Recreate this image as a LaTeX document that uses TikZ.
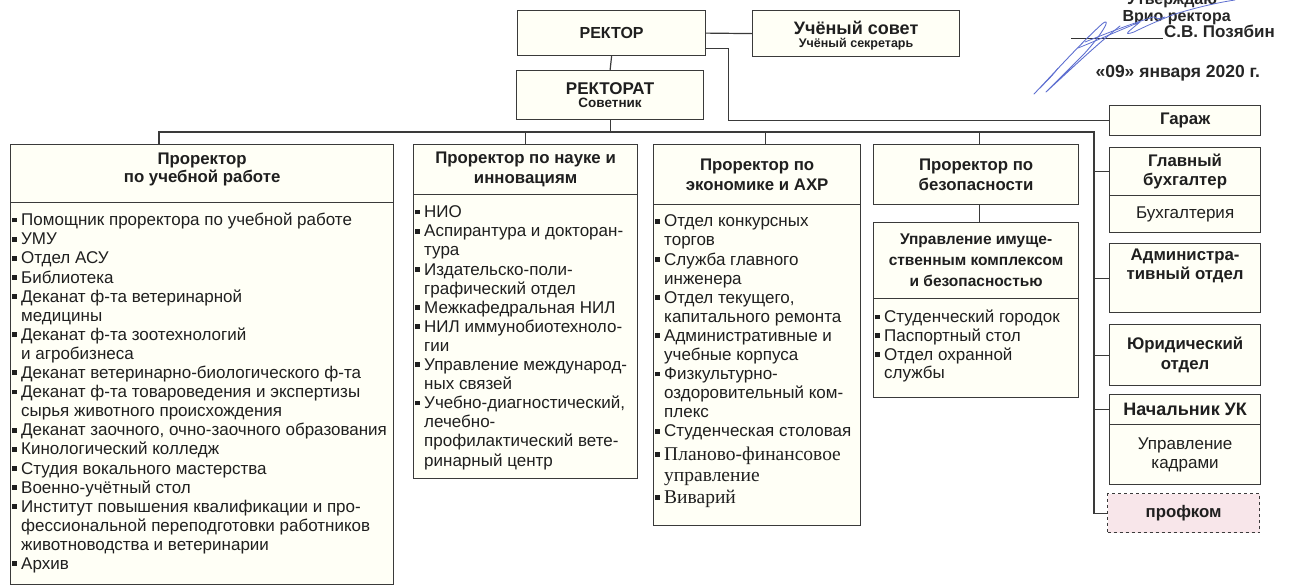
\documentclass[tikz,border=0pt]{standalone}
\usepackage{fontspec}
\setmainfont{Liberation Sans}
\newfontfamily\serifrm{Liberation Serif}
\usetikzlibrary{calc}
\definecolor{ln}{HTML}{3A3A3A}
\definecolor{cream}{HTML}{FFFFF6}
\definecolor{pinkfill}{HTML}{F8E6EA}
\definecolor{ink}{HTML}{5E6FD0}
\newcommand\bl{\makebox[9pt][l]{\raisebox{3.3pt}{\rule{4.8pt}{4.8pt}}}}
\newcommand\ii{\hspace*{9pt}}
\newcommand\fs{\fontsize{17pt}{19.1pt}\selectfont}
\newcommand\hfs{\fontsize{16.8pt}{19.5pt}\selectfont\bfseries}
\newcommand\st{\rule{0pt}{15pt}}
\begin{document}
\begin{tikzpicture}[x=1pt,y=-1pt,
  box/.style={draw=ln,line width=1.2pt,fill=cream,inner sep=0pt,anchor=north west,align=center,text=black!88},
  hd/.style={font=\hfs},
  rg/.style={font=\fs},
  lst/.style={font=\fs,align=left,anchor=north west,inner sep=0pt,text=black!88},
  con/.style={draw=ln,line width=1.2pt}]
\useasboundingbox (0,0) rectangle (1289,587);

% top
\node[box,font=\fontsize{16pt}{18pt}\selectfont\bfseries,minimum width=188,minimum height=45] (rector) at (517,10) {РЕКТОР};
\node[box,minimum width=207,minimum height=46] (council) at (752,10) {};
\node[font=\fontsize{18pt}{18pt}\selectfont\bfseries,text=black!88,inner sep=0pt] (councilA) at ([shift={(0,-6)}]council.center) {Учёный совет};
\node[font=\fontsize{12.5pt}{13pt}\selectfont\bfseries,text=black!88,inner sep=0pt] (councilB) at ([shift={(0,11)}]council.center) {Учёный секретарь};
\node[box,minimum width=187,minimum height=49] (rectorat) at (516,70)
  {{\fontsize{17pt}{17pt}\selectfont\bfseries РЕКТОРАТ}\\[1pt]{\fontsize{13.5pt}{14pt}\selectfont\bfseries Советник}};
\node[box,hd,minimum width=151,minimum height=30] (garage) at (1109,105) {Гараж};

% column 1
\node[box,minimum width=383,minimum height=58] (p1h) at (10,144) {};
\node[font=\fontsize{16.8pt}{18.5pt}\selectfont\bfseries,align=center,text=black!88,inner sep=0pt] (p1ht) at ([shift={(0,-4)}]p1h.center) {Проректор\\по учебной работе};
\node[box,minimum width=383,minimum height=382] (p1b) at (10,202) {};
\node[lst] (t1) at (12,210.5) {\st\bl Помощник проректора по учебной работе\\
\bl УМУ\\
\bl Отдел АСУ\\
\bl Библиотека\\
\bl Деканат ф-та ветеринарной\\
\ii медицины\\
\bl Деканат ф-та зоотехнологий\\
\ii и агробизнеса\\
\bl Деканат ветеринарно-биологического ф-та\\
\bl Деканат ф-та товароведения и экспертизы\\
\ii сырья животного происхождения\\
\bl Деканат заочного, очно-заочного образования\\
\bl Кинологический колледж\\
\bl Студия вокального мастерства\\
\bl Военно-учётный стол\\
\bl Институт повышения квалификации и про-\\
\ii фессиональной переподготовки работников\\
\ii животноводства и ветеринарии\\
\bl Архив};

% column 2
\node[box,hd,minimum width=224,minimum height=50] (p2h) at (413,144) {Проректор по науке и\\инновациям};
\node[box,minimum width=224,minimum height=284] (p2b) at (413,194) {};
\node[lst] (t2) at (415,202.5) {\st\bl НИО\\
\bl Аспирантура и докторан-\\
\ii тура\\
\bl Издательско-поли-\\
\ii графический отдел\\
\bl Межкафедральная НИЛ\\
\bl НИЛ иммунобиотехноло-\\
\ii гии\\
\bl Управление международ-\\
\ii ных связей\\
\bl Учебно-диагностический,\\
\ii лечебно-\\
\ii профилактический вете-\\
\ii ринарный центр};

% column 3
\node[box,hd,minimum width=207,minimum height=60] (p3h) at (653,144) {Проректор по\\экономике и АХР};
\node[box,minimum width=207,minimum height=321] (p3b) at (653,204) {};
\node[lst] (t3) at (655,211.6) {\st\bl Отдел конкурсных\\
\ii торгов\\
\bl Служба главного\\
\ii инженера\\
\bl Отдел текущего,\\
\ii капитального ремонта\\
\bl Административные и\\
\ii учебные корпуса\\
\bl Физкультурно-\\
\ii оздоровительный ком-\\
\ii плекс\\
\bl Студенческая столовая};
\node[lst,font=\serifrm\fontsize{19.5pt}{21.5pt}\selectfont] (t3s) at (655,445) {\st\bl Планово-финансовое\\
\ii управление\\
\bl Виварий};

% column 4
\node[box,hd,minimum width=205,minimum height=60] (p4h) at (873,144) {Проректор по\\безопасности};
\node[box,font=\fontsize{15.5pt}{21pt}\selectfont\bfseries,minimum width=205,minimum height=76] (p4sh) at (873,222) {Управление имуще-\\ственным комплексом\\и безопасностью};
\node[box,minimum width=205,minimum height=99] (p4sb) at (873,298) {};
\node[lst,font=\fontsize{17pt}{18.7pt}\selectfont] (t4) at (875,307.5) {\st\bl Студенческий городок\\
\bl Паспортный стол\\
\bl Отдел охранной\\
\ii службы};

% right column
\node[box,hd,minimum width=151,minimum height=48] (gbh) at (1109,147) {Главный\\бухгалтер};
\node[box,rg,minimum width=151,minimum height=37] (gbb) at (1109,195) {Бухгалтерия};
\node[box,hd,minimum width=151,minimum height=69] (adm) at (1109,243) {Администра-\\тивный отдел\\[8pt]};
\node[box,hd,minimum width=151,minimum height=61] (jur) at (1109,324) {Юридический\\отдел};
\node[box,font=\fontsize{18pt}{19pt}\selectfont\bfseries,minimum width=151,minimum height=30] (ukh) at (1109,394) {Начальник УК};
\node[box,rg,minimum width=151,minimum height=60] (ukb) at (1109,424) {Управление\\кадрами};
\node[box,hd,dashed,fill=pinkfill,minimum width=152,minimum height=39] (prof) at (1107,493) {профком};

% connectors
\coordinate (busL) at (159,132);
\coordinate (busR) at (1094,132);
\draw[con] (rector.east) -- (council.west);
\draw[con] (rector.south) -- (rectorat.north);
\draw[con] ([shift={(0,15)}]rector.east) -- ++(22,0) |- (garage.west);
\draw[con] (rectorat.south) -- (rectorat.south |- busL);
\draw[con] (busL |- p1h.north) -- (busL) -- (busR) -- (busR |- prof.west) -- (prof.west);
\draw[con] (p2h.north) -- (p2h.north |- busL);
\draw[con] ([shift={(8,0)}]p3h.north) -- ([shift={(8,0)}]p3h.north |- busL);
\draw[con] ([shift={(3,0)}]p4h.north) -- ([shift={(3,0)}]p4h.north |- busL);
\draw[con] ([shift={(3,0)}]p4h.south) -- ([shift={(3,0)}]p4sh.north);
\draw[con] (busR |- gbh.west) -- (gbh.west);
\draw[con] (busR |- adm.west) -- (adm.west);
\draw[con] (busR |- jur.west) -- (jur.west);
\draw[con] (busR |- ukh.west) -- (ukh.west);

% approval block
\node[font=\fontsize{16pt}{18pt}\selectfont\bfseries,anchor=base,text=black!85] (utv) at (1172,4) {Утверждаю};
\node[font=\fontsize{16pt}{18pt}\selectfont\bfseries,anchor=base west,text=black!85] (vrio) at (1119,21) {Врио ректора};
\node[font=\fontsize{17pt}{18pt}\selectfont\bfseries,anchor=base west,text=black!85,inner sep=1pt] (fio) at (1163,37) {С.В. Позябин};
\coordinate (ul) at (1071,38);
\draw[line width=0.8pt,black!80] (ul) -- (ul -| fio.west);
\node[font=\fontsize{17.5pt}{18pt}\selectfont\bfseries,anchor=base west,text=black!85] (date) at (1092,77) {«09» января 2020 г.};
% signature
\draw[ink,line width=0.9pt,line cap=round,line join=round]
  (1034,94) .. controls (1055,72) and (1080,44) .. (1102,24)
  .. controls (1112,16) and (1104,32) .. (1084,54)
  .. controls (1066,72) and (1052,86) .. (1046,92)
  .. controls (1070,70) and (1095,46) .. (1120,26);
\draw[ink,line width=0.8pt,line cap=round,line join=round]
  (1078,48) .. controls (1098,40) and (1120,30) .. (1140,22)
  .. controls (1128,32) and (1122,36) .. (1134,32)
  .. controls (1150,24) and (1165,18) .. (1175,14)
  .. controls (1195,8) and (1215,3) .. (1235,0);
\draw[ink,line width=0.8pt,line cap=round,line join=round]
  (1085,42) .. controls (1105,34) and (1125,26) .. (1150,18)
  .. controls (1160,14) and (1150,22) .. (1165,17);
\draw[ink,line width=0.7pt,line cap=round]
  (1040,88) .. controls (1048,80) and (1054,74) .. (1058,68);
\end{tikzpicture}
\end{document}
